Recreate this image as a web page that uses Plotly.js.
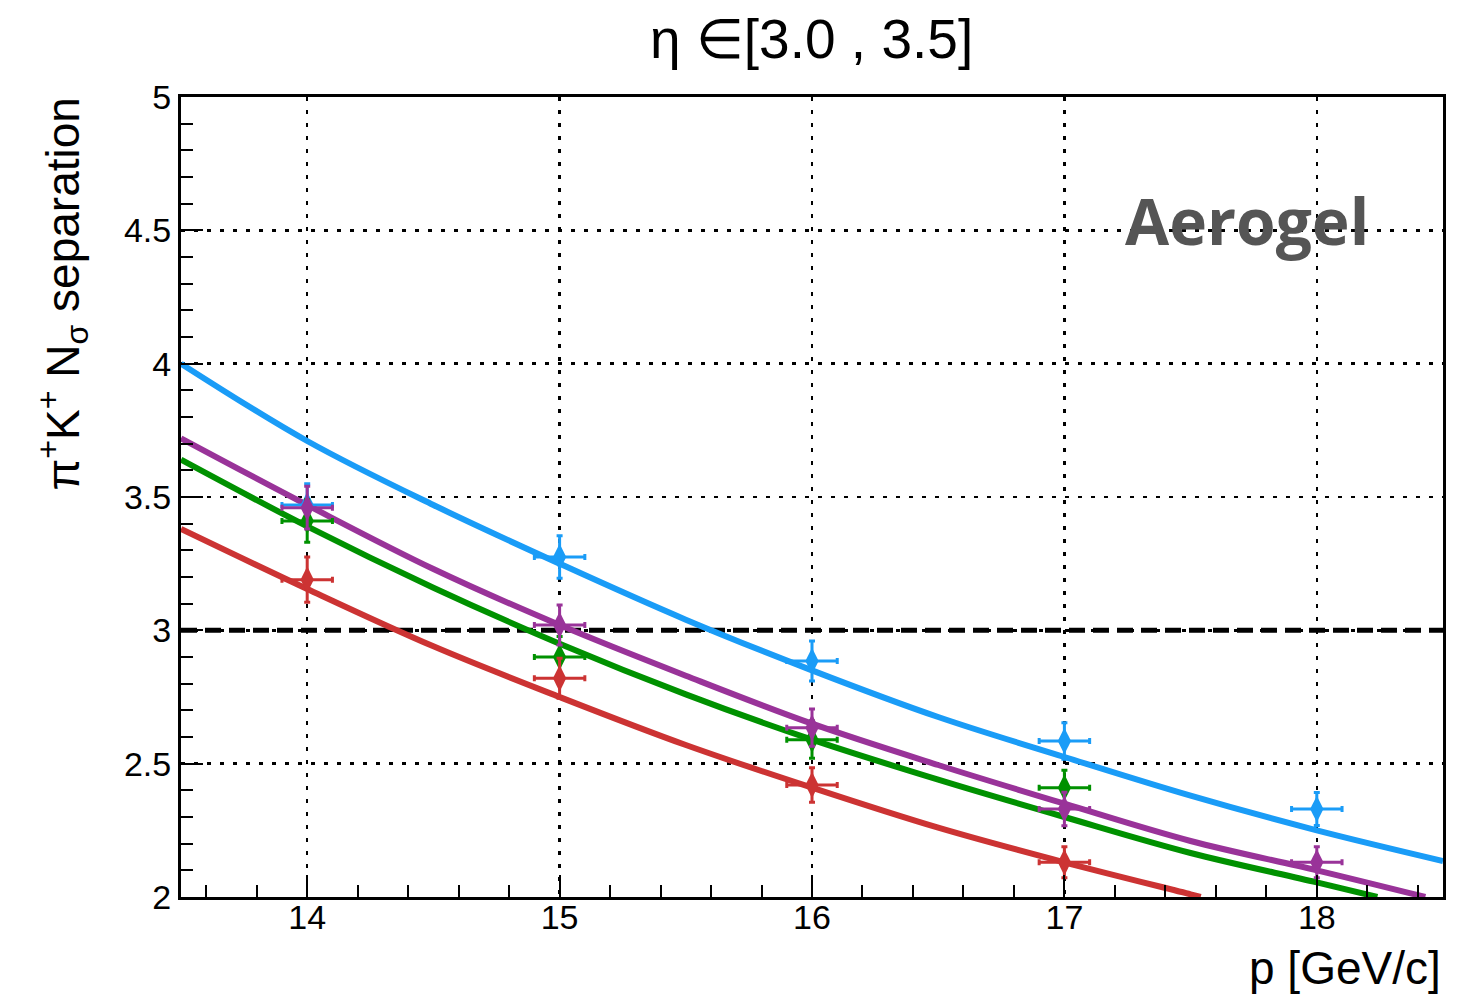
<!DOCTYPE html>
<html>
<head>
<meta charset="utf-8">
<script src="https://cdn.plot.ly/plotly-3.0.1.min.js"></script>
<style>html,body{margin:0;padding:0;background:#fff;}#plot{width:1461px;height:1000px;}</style>
</head>
<body>
<div id="plot"></div>
<script>
// ---- data ----
const pointX = [14, 15, 16, 17, 18];
const pointXErr = [0.1, 0.1, 0.1, 0.1, 0.1];

const blueY    = [3.47, 3.275, 2.885, 2.585, 2.33];
const blueErr  = [0.08, 0.08, 0.075, 0.068, 0.062];
const purpleY  = [3.46, 3.02, 2.635, 2.33, 2.13];
const purpleErr= [0.08, 0.075, 0.07, 0.063, 0.058];
const greenX   = [14, 15, 16, 17];
const greenY   = [3.41, 2.90, 2.59, 2.41];
const greenErr = [0.08, 0.077, 0.07, 0.065];
const redX     = [14, 15, 16, 17];
const redY     = [3.19, 2.82, 2.42, 2.13];
const redErr   = [0.085, 0.075, 0.065, 0.058];

// fitted curves
const blueCurveX   = [13.5, 14, 14.5, 15, 15.5, 16, 16.5, 17, 17.5, 18, 18.5];
const blueCurveY   = [4.0, 3.71, 3.47, 3.25, 3.04, 2.85, 2.675, 2.525, 2.38, 2.25, 2.135];
const purpleCurveX = [13.5, 14, 14.5, 15, 15.5, 16, 16.5, 17, 17.5, 18, 18.43];
const purpleCurveY = [3.72, 3.47, 3.23, 3.02, 2.83, 2.65, 2.495, 2.35, 2.21, 2.10, 2.0];
const greenCurveX  = [13.5, 14, 14.5, 15, 15.5, 16, 16.5, 17, 17.5, 18, 18.24];
const greenCurveY  = [3.64, 3.39, 3.16, 2.95, 2.76, 2.59, 2.44, 2.30, 2.165, 2.055, 2.0];
const redCurveX    = [13.5, 14, 14.5, 15, 15.5, 16, 16.5, 17, 17.5, 17.54];
const redCurveY    = [3.38, 3.155, 2.94, 2.75, 2.57, 2.41, 2.26, 2.13, 2.01, 2.0];

const threshold = 3;
const xRange = [13.5, 18.5];
const yRange = [2, 5];

const titleText = "η ∈[3.0 , 3.5]";
const xTitle = "p [GeV/c]";
const yTitle = "π<sup>+</sup>K<sup>+</sup> N<sub>σ</sub> separation";
const label = "Aerogel";

// ---- styling ----
const C = {blue:'#1a9cf7', purple:'#993399', green:'#009100', red:'#cc3333'};
const FONT = 'Liberation Sans, Arial, sans-serif';

function curve(x, y, col){
  return {x:x, y:y, type:'scatter', mode:'lines', line:{color:col, width:6, shape:'spline', smoothing:1}, hoverinfo:'skip', showlegend:false, cliponaxis:true};
}
function pts(x, y, ey, col){
  return {x:x, y:y, type:'scatter', mode:'markers',
    marker:{symbol:'diamond-tall', size:19, color:col},
    error_y:{type:'data', array:ey, visible:true, color:col, thickness:3, width:3},
    error_x:{type:'data', array:pointXErr.slice(0, x.length), visible:true, color:col, thickness:3, width:3},
    showlegend:false};
}

const data = [
  curve(blueCurveX, blueCurveY, C.blue),
  curve(purpleCurveX, purpleCurveY, C.purple),
  curve(greenCurveX, greenCurveY, C.green),
  curve(redCurveX, redCurveY, C.red),
  pts(pointX, blueY, blueErr, C.blue),
  pts(greenX, greenY, greenErr, C.green),
  pts(redX, redY, redErr, C.red),
  pts(pointX, purpleY, purpleErr, C.purple)
];

const layout = {
  width:1461, height:1000,
  paper_bgcolor:'#fff', plot_bgcolor:'#fff',
  margin:{l:181, r:18, t:97, b:103},
  font:{family:FONT, color:'#000'},
  title:{text:titleText, font:{size:55, family:FONT, color:'#000'}, x:0.5555, xanchor:'center', y:0.961, yanchor:'middle', yref:'container'},
  xaxis:{range:xRange, showline:true, linewidth:3, linecolor:'#000', mirror:true,
    ticks:'inside', ticklen:22, tickwidth:2, tickcolor:'#000', tick0:14, dtick:1,
    showgrid:true, gridcolor:'#000', gridwidth:2.5, griddash:'4px,9px', zeroline:false,
    minor:{dtick:0.2, ticks:'inside', ticklen:12, tickwidth:2, tickcolor:'#000', showgrid:false},
    tickfont:{size:34, family:FONT, color:'#000'}, ticklabelstandoff:-12},
  yaxis:{range:yRange, showline:true, linewidth:3, linecolor:'#000', mirror:true,
    ticks:'inside', ticklen:22, tickwidth:2, tickcolor:'#000', tick0:2, dtick:0.5,
    showgrid:true, gridcolor:'#000', gridwidth:2.5, griddash:'4px,9px', zeroline:false,
    minor:{dtick:0.1, ticks:'inside', ticklen:12, tickwidth:2, tickcolor:'#000', showgrid:false},
    tickfont:{size:34, family:FONT, color:'#000'}, ticklabelstandoff:0},
  shapes:[{type:'line', xref:'paper', x0:0, x1:1, yref:'y', y0:threshold, y1:threshold, layer:'below',
    line:{color:'#000', width:5, dash:'16px,8px'}}],
  annotations:[
    {text:yTitle, xref:'paper', yref:'paper', x:0, xshift:-118, xanchor:'center', y:1.003, yanchor:'top', textangle:-90, showarrow:false, font:{size:46, family:FONT, color:'#000'}},
    {text:xTitle, xref:'paper', yref:'paper', x:1, xanchor:'right', y:-0.089, yanchor:'middle', showarrow:false, font:{size:46, family:FONT, color:'#000'}},
    {text:'<b>'+label+'</b>', xref:'paper', yref:'paper', x:0.845, xanchor:'center', y:0.846, yanchor:'middle', showarrow:false, font:{size:64, family:'Open Sans, sans-serif', color:'#555555'}}
  ]
};

Plotly.newPlot('plot', data, layout, {displayModeBar:false, staticPlot:true});
</script>
</body>
</html>
